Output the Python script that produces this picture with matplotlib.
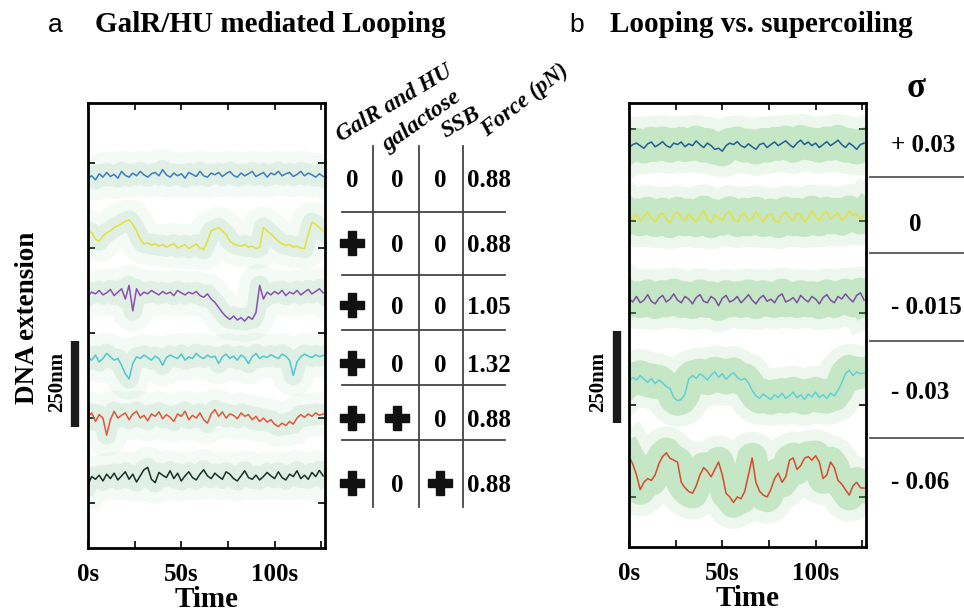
import numpy as np
import matplotlib
matplotlib.use("Agg")
import matplotlib.pyplot as plt

plt.rcParams["font.family"] = ["Liberation Serif", "DejaVu Serif"]
plt.rcParams["font.weight"] = "bold"
plt.rcParams["axes.labelweight"] = "bold"

# time grid (s)
t = np.arange(0, 128, 2)

# panel a: GalR/HU looping traces, DNA extension (nm)
blue_a = [955, 962, 950, 968, 958, 972, 960, 966,
          955, 975, 963, 958, 970, 962, 975, 965,
          958, 968, 972, 962, 980, 965, 958, 970,
          962, 968, 955, 972, 966, 960, 975, 962,
          958, 970, 965, 972, 960, 968, 975, 963,
          958, 970, 962, 968, 975, 960, 966, 972,
          958, 970, 965, 975, 962, 968, 972, 960,
          966, 975, 962, 970, 965, 958, 968, 960]
yellow_a = [800, 795, 775, 770, 785, 795, 800, 810,
            815, 822, 828, 832, 820, 800, 775, 762,
            765, 758, 762, 755, 760, 752, 758, 762,
            750, 755, 760, 748, 755, 762, 750, 745,
            770, 800, 805, 810, 800, 790, 770, 762,
            758, 755, 760, 752, 755, 748, 752, 810,
            800, 792, 780, 770, 762, 758, 760, 752,
            755, 750, 748, 790, 825, 820, 810, 800]
purple_a = [610, 620, 615, 625, 612, 618, 628, 610,
            620, 630, 600, 640, 565, 630, 610, 620,
            615, 625, 618, 612, 622, 615, 620, 610,
            625, 618, 612, 620, 615, 622, 610, 605,
            615, 600, 590, 575, 560, 548, 540, 550,
            538, 545, 535, 548, 540, 560, 640, 600,
            620, 612, 622, 615, 625, 610, 620, 615,
            625, 612, 620, 628, 615, 622, 630, 618]
cyan_a = [430, 420, 435, 415, 425, 440, 430, 420,
          425, 405, 380, 365, 410, 430, 425, 435,
          428, 420, 432, 425, 405, 428, 435, 430,
          425, 438, 420, 430, 425, 440, 430, 425,
          435, 428, 432, 410, 430, 438, 425, 432,
          420, 435, 428, 410, 430, 440, 425, 432,
          428, 436, 430, 425, 438, 432, 420, 375,
          415, 430, 438, 432, 428, 436, 430, 434]
red_a = [255, 265, 240, 260, 250, 200, 245, 270,
         250, 258, 265, 245, 262, 270, 250, 258,
         242, 262, 255, 268, 248, 260, 252, 240,
         262, 255, 270, 245, 258, 250, 265, 245,
         235, 262, 275, 255, 268, 250, 262, 258,
         248, 265, 255, 260, 245, 255, 240, 250,
         238, 245, 232, 225, 235, 228, 240, 232,
         250, 260, 252, 262, 255, 265, 258, 262]
black_a = [55, 78, 70, 82, 65, 85, 72, 88,
           68, 80, 92, 70, 85, 62, 80, 98,
           105, 70, 60, 90, 82, 75, 95, 72,
           88, 65, 80, 92, 75, 68, 85, 98,
           80, 72, 88, 78, 70, 92, 85, 72,
           65, 80, 95, 75, 70, 82, 68, 78,
           90, 80, 72, 92, 75, 68, 85, 78,
           95, 72, 82, 70, 90, 78, 96, 80]

# panel b: looping vs supercoiling traces (nm)
blue_b = [950, 958, 962, 955, 948, 960, 965, 952,
          958, 966, 955, 950, 962, 958, 965, 952,
          960, 955, 968, 958, 950, 962, 955, 945,
          948, 940, 955, 962, 958, 966, 955, 950,
          960, 952, 945, 958, 962, 950, 958, 965,
          955, 962, 968, 958, 950, 962, 970, 958,
          965, 955, 962, 950, 958, 966, 955, 962,
          970, 958, 950, 962, 955, 945, 958, 962]
yellow_b = [765, 755, 770, 750, 762, 775, 758, 748,
            765, 772, 755, 745, 768, 775, 760, 750,
            770, 758, 748, 765, 778, 755, 745, 768,
            760, 752, 770, 776, 755, 748, 765, 772,
            750, 758, 775, 762, 748, 765, 770, 752,
            745, 768, 775, 760, 750, 772, 765, 748,
            758, 778, 762, 750, 770, 775, 755, 765,
            772, 752, 760, 778, 765, 770, 755, 768]
purple_b = [540, 530, 545, 528, 535, 550, 532, 525,
            540, 548, 530, 538, 552, 535, 528, 545,
            538, 525, 542, 550, 532, 528, 545, 538,
            520, 540, 548, 530, 535, 545, 528, 538,
            550, 535, 525, 540, 548, 532, 538, 528,
            545, 552, 530, 535, 542, 528, 548, 538,
            530, 545, 538, 525, 542, 550, 535, 528,
            545, 538, 552, 540, 530, 548, 555, 535]
cyan_b = [315, 325, 318, 330, 320, 312, 322, 308,
          318, 310, 300, 295, 270, 262, 265, 280,
          320, 330, 322, 335, 328, 318, 332, 340,
          325, 335, 320, 330, 338, 325, 318, 322,
          310, 290, 275, 268, 280, 272, 265, 278,
          270, 282, 268, 275, 285, 270, 278, 265,
          280, 272, 285, 270, 278, 268, 282, 275,
          290, 310, 335, 345, 330, 340, 335, 338]
red_b = [109, 90, 60, 20, 40, 50, 45, 60,
         90, 110, 120, 105, 100, 95, 40, 25,
         15, 10, 30, 60, 80, 70, 55, 75,
         95, 60, 10, 0, -15, 0, -5, 15,
         60, 106, 40, 15, 5, 0, 20, 50,
         65, 40, 55, 100, 106, 75, 85, 105,
         110, 100, 112, 95, 50, 60, 95, 80,
         45, 35, 20, 5, 30, 40, 25, 24]

# table of conditions (panel a)
galr_hu = [0, 1, 1, 1, 1, 1]
galactose = [0, 0, 0, 0, 1, 0]
ssb = [0, 0, 0, 0, 0, 1]
force = ["0.88", "0.88", "1.05", "1.32", "0.88", "0.88"]
headers = ["GalR and HU", "galactose", "SSB", "Force (pN)"]

# supercoiling densities (panel b)
sigma = ["+ 0.03", "0", "- 0.015", "- 0.03", "- 0.06"]

W, H = 964, 614
fig = plt.figure(figsize=(W / 100, H / 100), dpi=100)


def px_axes(x0, y0, x1, y1):
    return fig.add_axes([x0 / W, 1 - y1 / H, (x1 - x0) / W, (y1 - y0) / H])


ax_a = px_axes(88, 103, 325, 548)
ax_b = px_axes(629, 103, 866, 547)


def trace(ax, y, color, cloud, widths, alphas):
    for lw, a in zip(widths, alphas):
        ax.plot(t, y, color=cloud, lw=lw, alpha=a, solid_joinstyle="round",
                solid_capstyle="projecting")
    ax.plot(t, y, color=color, lw=1.1)


cloud_a = "#6fb98a"
for y, c in [(blue_a, "#3a7dc0"), (yellow_a, "#e4e03a"), (purple_a, "#8a4fb0"),
             (cyan_a, "#4cc8d0"), (red_a, "#e0553a"), (black_a, "#16302a")]:
    trace(ax_a, y, c, cloud_a, (30, 14), (0.07, 0.15))

cloud_b = "#6cc46c"
for y, c in [(blue_b, "#1f5f8f"), (yellow_b, "#e8e040"), (purple_b, "#7a4fa0"),
             (cyan_b, "#60d0d8"), (red_b, "#d84a2a")]:
    trace(ax_b, y, c, cloud_b, (38, 22), (0.12, 0.3))

for ax, ylim in ((ax_a, (-132, 1176)), (ax_b, (-136, 1071))):
    ax.set_xlim(0, 127)
    ax.set_ylim(*ylim)
    ax.set_xticks(np.arange(0, 126, 25))
    ax.set_xticklabels(["0s", "", "50s", "", "100s", ""], fontweight="bold")
    ax.set_yticks(np.arange(0, 1001, 250))
    ax.set_yticklabels([])
    ax.tick_params(direction="in", top=True, right=True, length=5, width=1.2,
                   labelsize=18, pad=11)
    for s in ax.spines.values():
        s.set_linewidth(2)
    ax.set_xlabel("Time", fontsize=21, fontweight="bold", labelpad=0)

# 250 nm scale bars
ax_a.plot([-6.8, -6.8], [225, 475], color="#1a1a1a", lw=6, solid_capstyle="butt", clip_on=False)
ax_b.plot([-6.4, -6.4], [200, 450], color="#1a1a1a", lw=6, solid_capstyle="butt", clip_on=False)

# overlay in pixel coordinates for titles and tables
ov = fig.add_axes([0, 0, 1, 1], facecolor="none")
ov.set_xlim(0, W)
ov.set_ylim(H, 0)
ov.axis("off")

ov.text(55, 32, "a", family="Liberation Sans", weight="normal", fontsize=19, ha="center", va="baseline")
ov.text(95, 32, "GalR/HU mediated Looping", fontsize=21, ha="left", va="baseline")
ov.text(577, 32, "b", family="Liberation Sans", weight="normal", fontsize=19, ha="center", va="baseline")
ov.text(610, 32, "Looping vs. supercoiling", fontsize=21, ha="left", va="baseline")

ov.text(28, 318, "DNA extension", rotation=90, fontsize=19.5, ha="center", va="center")
ov.text(57, 382, "250nm", rotation=90, fontsize=15, ha="center", va="center")
ov.text(598, 382, "250nm", rotation=90, fontsize=15, ha="center", va="center")

# condition table
row_y = [178, 243, 305, 363, 418, 483]
col_x = [352, 397, 440]
for hy in [212, 275, 330, 385, 440]:
    ov.plot([342, 505], [hy, hy], color="#444444", lw=1.3)
for vx in [373, 419, 463]:
    ov.plot([vx, vx], [146, 507], color="#444444", lw=1.3)
for i, ry in enumerate(row_y):
    for cx, v in zip(col_x, (galr_hu[i], galactose[i], ssb[i])):
        if v:
            ov.plot(cx, ry, marker="P", ms=17, color="#111111", mec="#111111")
        else:
            ov.text(cx, ry + 9, "0", fontsize=18, ha="center", va="baseline")
    ov.text(467, ry + 9, force[i], fontsize=18, ha="left", va="baseline")

for (hx, hy), h, rot, fs in zip([(341, 142), (388, 152), (446, 138), (487, 137)], headers,
                                [31, 35, 30, 38], [16.5, 17, 17, 16.5]):
    ov.text(hx, hy, h, fontsize=fs, style="italic", rotation=rot, rotation_mode="anchor",
            ha="left", va="baseline")

# sigma table
ov.text(916, 97, "σ", fontsize=25, ha="center", va="baseline")
for sy in [177, 253, 341, 438]:
    ov.plot([870, 964], [sy, sy], color="#555555", lw=1.3)
for sy, s in zip([143, 222, 305, 390, 480], sigma):
    if s == "0":
        ov.text(915, sy + 9, s, fontsize=18, ha="center", va="baseline")
    else:
        ov.text(891, sy + 9, s, fontsize=18, ha="left", va="baseline")

fig.savefig("out.png", dpi=100)
